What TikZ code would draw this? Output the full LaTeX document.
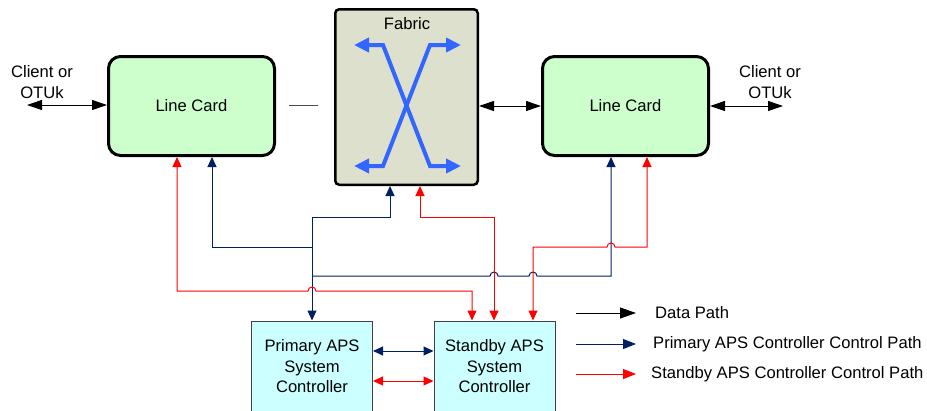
\documentclass[tikz,border=0pt]{standalone}
\usepackage{fontspec}
\setmainfont{Liberation Sans}
\usetikzlibrary{arrows.meta}
\definecolor{cardgreen}{RGB}{204,255,204}
\definecolor{fabricgray}{RGB}{221,224,204}
\definecolor{ctlcyan}{RGB}{204,255,255}
\definecolor{navy}{RGB}{0,32,96}
\definecolor{fabblue}{RGB}{51,102,255}
\definecolor{ctlred}{RGB}{255,0,0}

\begin{document}
\begin{tikzpicture}[x=1pt,y=-1pt,
  font=\fontsize{16.6}{20.5}\selectfont,
  card/.style={draw, rounded corners=12pt, line width=3pt, fill=cardgreen,
    minimum width=166pt, minimum height=99pt},
  fabricbox/.style={draw, rounded corners=4pt, line width=2.5pt, fill=fabricgray,
    minimum width=142.5pt, minimum height=175.5pt},
  ctlbox/.style={draw=black!75, line width=1pt, fill=ctlcyan, align=center,
    minimum width=121pt, minimum height=91pt},
  plain/.style={inner sep=0pt, align=center},
  datapath/.style={draw=black, line width=1pt},
  dtip/.tip={Triangle[length=15pt,width=10pt]},
  ctip/.tip={Triangle[length=10pt,width=9pt]},
  ftip/.tip={Triangle[length=15pt,width=14pt]},
  ctlB/.style={draw=navy, line width=1pt},
  ctlR/.style={draw=ctlred, line width=1pt},
  fabX/.style={draw=fabblue, line width=4pt, line join=miter, arrows={ftip-ftip}},
]
\useasboundingbox (0,0) rectangle (927,410);

% ---- main blocks ----
\node[card] (lc1) at (191.5,106) {Line Card};
\node[card] (lc2) at (625.5,106) {Line Card};
\node[fabricbox] (fab) at (406.5,97) {};
\node[plain] (fabtitle) at (407,24) {Fabric};
\node[ctlbox] (prim) at (312,366.5) {Primary APS\\System\\Controller};
\node[ctlbox] (stby) at (494.5,366.5) {Standby APS\\System\\Controller};

% ---- client side labels ----
\node[plain] (cliLtxt) at (42,82) {Client or\\OTUk};
\node[plain] (cliRtxt) at (770,82) {Client or\\OTUk};

% ---- switching cross inside the fabric ----
\draw[fabX] (354,45) -- (383,45) -- (430,166) -- (461,166);
\draw[fabX] (461,45) -- (430,45) -- (383,166) -- (354,166);

% ---- data path ----
\coordinate (cliL) at (27,105);
\coordinate (cliR) at (783,106);
\coordinate (stubA) at (289,105);
\coordinate (stubB) at (318,105);
\draw[datapath, dtip-dtip] (cliL) -- (cliL -| lc1.west);
\draw[draw=black!70, line width=1pt] (stubA) -- (stubB);
\draw[datapath, dtip-dtip] (fab.east |- lc2.west) -- (lc2.west);
\draw[datapath, dtip-dtip] (lc2.east) -- (cliR);

% ---- junction points of the control paths ----
\coordinate (b1) at (212,247);
\coordinate (tB) at (312,247);
\coordinate (b2) at (390,217);
\coordinate (tA) at (312,217);
\coordinate (b3) at (611,276);
\coordinate (tC) at (312,276);
\coordinate (r1a) at (177,291);
\coordinate (r1b) at (472,291);
\coordinate (r2a) at (420,217);
\coordinate (r2b) at (494,217);
\coordinate (r3a) at (647,247);
\coordinate (r3b) at (533,247);

% ---- primary controller control path ----
\draw[ctlB, arrows={ctip-ctip}] (fab.south -| b2) -- (b2) -- (tA) -- (prim.north);
\draw[ctlB, arrows={ctip-}] (lc1.south -| b1) -- (b1) -- (tB);
\draw[ctlB, arrows={ctip-}] (lc2.south -| b3) -- (b3) -- (537,276)
  arc[start angle=0, end angle=180, radius=4pt] -- (498,276)
  arc[start angle=0, end angle=180, radius=4pt] -- (tC);

% ---- standby controller control path ----
\draw[ctlR, arrows={ctip-ctip}] (lc1.south -| r1a) -- (r1a) -- (308,291)
  arc[start angle=180, end angle=0, radius=4pt] -- (r1b) -- (stby.north -| r1b);
\draw[ctlR, arrows={ctip-ctip}] (fab.south -| r2a) -- (r2a) -- (r2b) -- (stby.north -| r2b);
\draw[ctlR, arrows={ctip-ctip}] (lc2.south -| r3a) -- (r3a) -- (615,247)
  arc[start angle=0, end angle=180, radius=4pt] -- (r3b) -- (stby.north -| r3b);

% ---- controller to controller links ----
\draw[ctlB, arrows={ctip-ctip}] (prim.east |- 0,351) -- (stby.west |- 0,351);
\draw[ctlR, arrows={ctip-ctip}] (prim.east |- 0,381) -- (stby.west |- 0,381);

% ---- legend ----
\node[plain, anchor=west] (lgT1) at (655,313) {Data Path};
\node[plain, anchor=west] (lgT2) at (653,344) {Primary APS Controller Control Path};
\node[plain, anchor=west] (lgT3) at (651,374) {Standby APS Controller Control Path};
\coordinate (lg1) at (576,313);
\coordinate (lg2) at (576,344);
\coordinate (lg3) at (576,374);
\draw[datapath, arrows={-Triangle[length=16pt,width=11pt]}] (lg1) -- (636,313);
\draw[ctlB, arrows={-Triangle[length=13pt,width=10pt]}] (lg2) -- (636,344);
\draw[ctlR, arrows={-Triangle[length=13pt,width=10pt]}] (lg3) -- (636,374);
\end{tikzpicture}
\end{document}
